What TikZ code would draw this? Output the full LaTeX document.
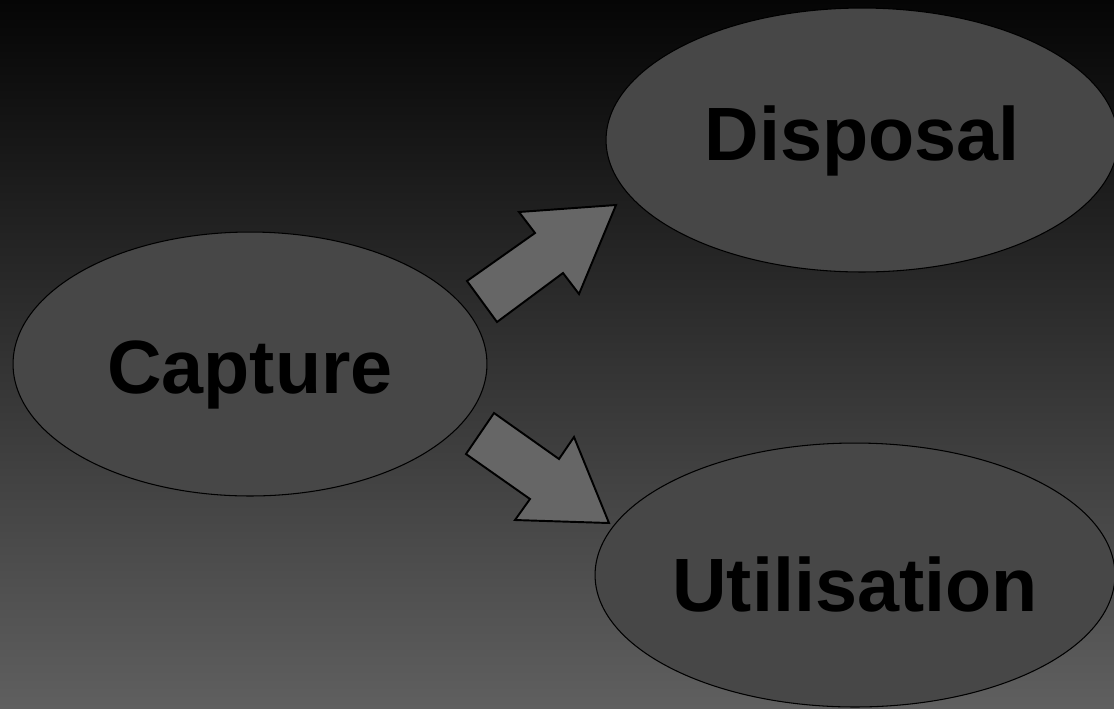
\documentclass[tikz,border=0pt]{standalone}
\usepackage{fontspec}
\setmainfont{Liberation Sans}
\usetikzlibrary{shapes.geometric}

\definecolor{bgtop}{HTML}{050505}
\definecolor{bgbottom}{HTML}{5F5F5F}
\definecolor{stagefill}{HTML}{474747}
\definecolor{arrowfill}{HTML}{666666}

\tikzset{
  stage/.style={ellipse, draw=black, line width=0.6pt, fill=stagefill,
    inner sep=0pt, minimum height=5.28cm, text height=42pt,
    font=\fontsize{43}{48}\selectfont\bfseries},
  blockarrow/.style={draw=black, line width=1.1pt, line join=miter, fill=arrowfill}
}

\begin{document}
\begin{tikzpicture}[x=0.02cm, y=-0.02cm]
        % Background
        \clip (0,0) rectangle (1114,708);
        \shade[top color=bgtop, bottom color=bgbottom] (0,0) rectangle (1114,708);

        % Stages
        \node[stage, minimum width=9.48cm] (capture) at (250,364) {Capture};
        \node[stage, minimum width=10.24cm, text height=31.7pt] (disposal) at (862,140) {Disposal};
        \node[stage, minimum width=10.4cm] (utilisation) at (855,575) {Utilisation};

        % Arrow to disposal
        \draw[blockarrow] (467,281) -- (535,233) -- (519,212) -- (616,205)
          -- (579,294) -- (563,273) -- (497,322) -- cycle;

        % Arrow to utilisation
        \draw[blockarrow] (494,413) -- (559,459) -- (574,437) -- (609,523)
          -- (515,520) -- (530,499) -- (466,454) -- cycle;
      \end{tikzpicture}
\end{document}
